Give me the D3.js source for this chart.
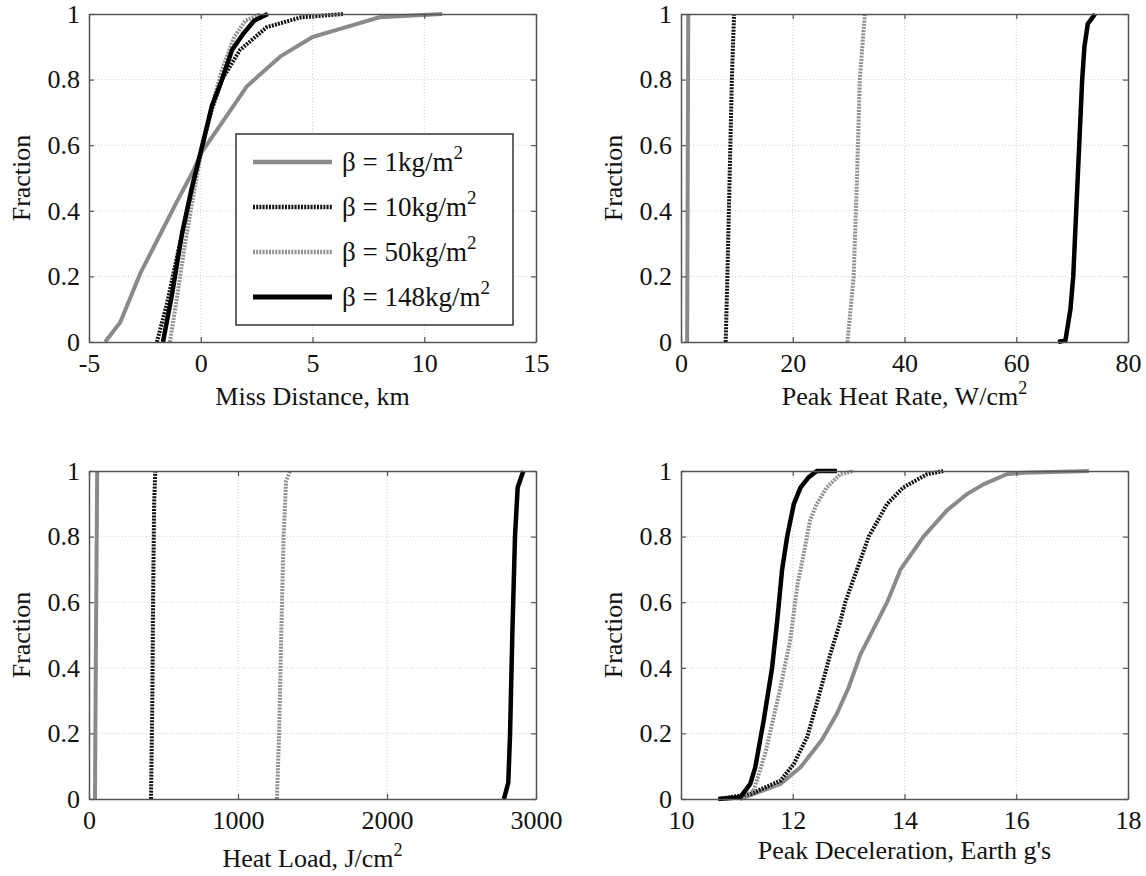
<!DOCTYPE html>
<html>
<head>
<meta charset="utf-8">
<script src="https://cdn.jsdelivr.net/npm/d3@7/dist/d3.min.js"></script>
<style>
    body { margin: 0; background: #fff; }
    svg text { font-family: "Liberation Serif", "Times New Roman", serif; fill: #111; }
</style>
</head>
<body>
<svg id="chart" width="1146" height="876"></svg>
<script>
// ---- data, [x, fraction] pairs ----
const fractionTicks = [0, 0.2, 0.4, 0.6, 0.8, 1];
const betaLabels = ['β = 1kg/m', 'β = 10kg/m', 'β = 50kg/m', 'β = 148kg/m'];

// Miss distance, km
const missTicks = [-5, 0, 5, 10, 15];
const missB1 = [[-4.28,0],[-3.6,0.06],[-2.7,0.21],[-1.8,0.33],[-1.05,0.43],[-0.35,0.52],[0.05,0.58],[0.86,0.66],[2.07,0.78],[3.55,0.87],[5.0,0.93],[6.5,0.96],[8.0,0.99],[10.8,1]];
const missB10 = [[-1.96,0],[-1.5,0.12],[-1.0,0.28],[-0.5,0.43],[0,0.58],[0.5,0.71],[0.95,0.8],[1.75,0.89],[2.96,0.96],[4.5,0.99],[6.4,1]];
const missB50 = [[-1.38,0],[-1.1,0.12],[-0.7,0.3],[-0.3,0.46],[0,0.57],[0.5,0.72],[0.95,0.83],[1.5,0.93],[2.0,0.98],[2.7,1]];
const missB148 = [[-1.69,0],[-1.3,0.14],[-0.84,0.33],[-0.4,0.47],[0,0.58],[0.5,0.72],[0.95,0.8],[1.4,0.89],[1.9,0.94],[2.4,0.98],[3.0,1]];

// Peak heat rate, W/cm^2
const rateTicks = [0, 20, 40, 60, 80];
const rateB1 = [[1.1,0],[1.2,0.5],[1.3,1]];
const rateB10 = [[8.0,0],[8.3,0.2],[8.7,0.5],[9.1,0.8],[9.5,1]];
const rateB50 = [[29.8,0],[30.9,0.2],[31.5,0.5],[32.0,0.8],[32.9,1]];
const rateB148 = [[67.5,0],[68.8,0.005],[69.7,0.1],[70.2,0.2],[71.0,0.5],[71.8,0.8],[72.2,0.9],[72.8,0.97],[74.1,1]];

// Heat load, J/cm^2
const loadTicks = [0, 1000, 2000, 3000];
const loadB1 = [[40,0],[47,0.5],[55,1]];
const loadB10 = [[416,0],[425,0.3],[430,0.6],[437,0.9],[445,1]];
const loadB50 = [[1261,0],[1276,0.2],[1290,0.5],[1306,0.8],[1323,0.97],[1350,1]];
const loadB148 = [[2785,0],[2814,0.05],[2826,0.2],[2841,0.5],[2859,0.8],[2877,0.95],[2915,1]];

// Peak deceleration, Earth g's
const decelTicks = [10, 12, 14, 16, 18];
const decelB1 = [[11.06,0],[11.78,0.046],[12.14,0.097],[12.52,0.18],[12.79,0.26],[13.0,0.34],[13.21,0.44],[13.45,0.52],[13.69,0.6],[13.93,0.7],[14.34,0.8],[14.76,0.88],[15.12,0.93],[15.42,0.96],[15.83,0.99],[16.13,0.995],[17.3,1]];
const decelB10 = [[10.67,0],[11.24,0.015],[11.78,0.056],[12.02,0.107],[12.26,0.19],[12.46,0.31],[12.67,0.44],[12.85,0.54],[12.94,0.6],[13.15,0.7],[13.36,0.8],[13.69,0.9],[13.98,0.95],[14.4,0.99],[14.7,1]];
const decelB50 = [[11.06,0],[11.3,0.025],[11.51,0.14],[11.78,0.34],[11.96,0.49],[12.08,0.65],[12.2,0.75],[12.31,0.85],[12.43,0.9],[12.61,0.95],[12.85,0.99],[13.09,1]];
const decelB148 = [[10.67,0],[11.06,0.005],[11.24,0.046],[11.33,0.097],[11.48,0.24],[11.63,0.4],[11.72,0.54],[11.81,0.7],[11.9,0.8],[12.02,0.9],[12.14,0.95],[12.28,0.98],[12.43,1],[12.79,1]];

// ---- styles ----
const lineStyles = [
    { color: '#8a8a8a', dash: null, width: 4 },
    { color: '#111', dash: '2,1.2', width: 4 },
    { color: '#909090', dash: '2,1.2', width: 4 },
    { color: '#000', dash: null, width: 4.5 }
];

const plotW = 447, plotH = 328;
const panels = [
    { left: 89, top: 14, ticks: missTicks, title: 'Miss Distance, km', sup: null, titleDy: 63,
      data: [missB1, missB10, missB50, missB148], legend: true },
    { left: 681, top: 14, ticks: rateTicks, title: 'Peak Heat Rate, W/cm', sup: '2', titleDy: 63,
      data: [rateB1, rateB10, rateB50, rateB148] },
    { left: 89, top: 471, ticks: loadTicks, title: 'Heat Load, J/cm', sup: '2', titleDy: 68,
      data: [loadB1, loadB10, loadB50, loadB148] },
    { left: 681, top: 471, ticks: decelTicks, title: "Peak Deceleration, Earth g's", sup: null, titleDy: 60,
      data: [decelB1, decelB10, decelB50, decelB148] }
];

const svg = d3.select('#chart');
svg.append('rect').attr('width', 1146).attr('height', 876).attr('fill', '#fff');

panels.forEach(p => {
    const g = svg.append('g').attr('transform', `translate(${p.left},${p.top})`);
    const x = d3.scaleLinear().domain(d3.extent(p.ticks)).range([0, plotW]);
    const y = d3.scaleLinear().domain([0, 1]).range([plotH, 0]);

    // grid
    const grid = g.append('g').attr('stroke', '#cfcfcf').attr('stroke-width', 1).attr('stroke-dasharray', '1,2');
    grid.selectAll('.gx').data(p.ticks.slice(1, -1)).join('line')
        .attr('x1', d => x(d)).attr('x2', d => x(d)).attr('y1', 0).attr('y2', plotH);
    grid.selectAll('.gy').data(fractionTicks.slice(1, -1)).join('line')
        .attr('y1', d => y(d)).attr('y2', d => y(d)).attr('x1', 0).attr('x2', plotW);

    // curves
    const line = d3.line().x(d => x(d[0])).y(d => y(d[1]));
    p.data.forEach((s, i) => {
        const st = lineStyles[i];
        g.append('path').datum(s)
            .attr('d', line)
            .attr('fill', 'none')
            .attr('stroke', st.color)
            .attr('stroke-width', st.width)
            .attr('stroke-dasharray', st.dash)
            .attr('stroke-linejoin', 'round');
    });

    // axes (ticks inside, box on)
    const fmt = d => String(d);
    g.append('g').attr('transform', `translate(0,${plotH})`)
        .call(d3.axisBottom(x).tickValues(p.ticks).tickFormat(fmt).tickSizeInner(-5).tickSizeOuter(0).tickPadding(12));
    g.append('g')
        .call(d3.axisLeft(y).tickValues(fractionTicks).tickFormat(fmt).tickSizeInner(-5).tickSizeOuter(0).tickPadding(9));
    g.append('g').call(d3.axisTop(x).tickValues(p.ticks).tickFormat('').tickSizeInner(-5).tickSizeOuter(0));
    g.append('g').attr('transform', `translate(${plotW},0)`)
        .call(d3.axisRight(y).tickValues(fractionTicks).tickFormat('').tickSizeInner(-5).tickSizeOuter(0));
    g.selectAll('.domain').attr('stroke', '#555').attr('stroke-width', 1.5);
    g.selectAll('.tick line').attr('stroke', '#555').attr('stroke-width', 1.2);
    g.selectAll('.tick text').attr('font-size', 26).attr('fill', '#111');

    // titles
    const xt = g.append('text')
        .attr('x', plotW / 2).attr('y', plotH + p.titleDy)
        .attr('text-anchor', 'middle').attr('font-size', 26)
        .text(p.title);
    if (p.sup) xt.append('tspan').attr('dy', -11).attr('font-size', 18).text(p.sup);

    g.append('text')
        .attr('transform', `translate(${-59},${plotH / 2}) rotate(-90)`)
        .attr('text-anchor', 'middle').attr('font-size', 26)
        .text('Fraction');

    // legend
    if (p.legend) {
        const lg = g.append('g').attr('transform', `translate(${236 - p.left},${134 - p.top})`);
        lg.append('rect').attr('width', 277).attr('height', 191)
            .attr('fill', '#fff').attr('stroke', '#333').attr('stroke-width', 1.5);
        betaLabels.forEach((lab, i) => {
            const st = lineStyles[i];
            const yy = 28 + i * 45;
            lg.append('line').attr('x1', 17).attr('x2', 96).attr('y1', yy).attr('y2', yy)
                .attr('stroke', st.color).attr('stroke-width', st.width + 0.5)
                .attr('stroke-dasharray', st.dash);
            const t = lg.append('text').attr('x', 106).attr('y', yy + 9).attr('font-size', 27).text(lab);
            t.append('tspan').attr('dy', -12).attr('font-size', 19).text('2');
        });
    }
});
</script>
</body>
</html>
